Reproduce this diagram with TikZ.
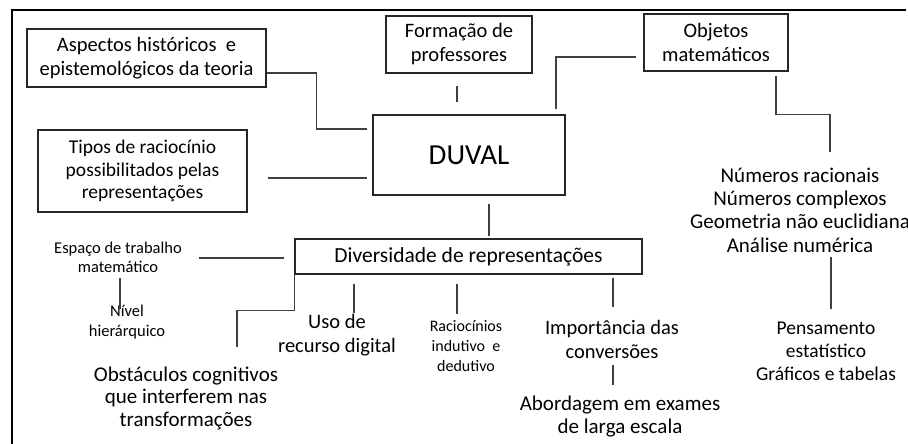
\documentclass[tikz,border=0pt]{standalone}
\usepackage{fontspec}
\setmainfont{Carlito}
\usepackage{tikz}
\usetikzlibrary{calc}
\tikzstyle{box} = [rectangle, draw=black!85, line width=1.1pt, align=center, inner sep=0pt, font=\fontsize{20.5}{24}\selectfont]
\tikzstyle{txt} = [align=center, inner sep=0pt, font=\fontsize{20.5}{23.5}\selectfont]
\tikzstyle{small} = [align=center, inner sep=0pt, font=\fontsize{16.5}{19.5}\selectfont]
\tikzstyle{conn} = [draw=black!75, line width=1.1pt]
\tikzstyle{frame} = [draw=black, line width=1.2pt]
\begin{document}
\begin{tikzpicture}[x=1pt, y=-1pt]
\useasboundingbox (0,0) rectangle (908,444);
\draw [frame] (906,10) -- (12,10) -- (12,444);

\node (duval) [box, minimum width=192pt, minimum height=80pt, font=\fontsize{29}{34}\selectfont] at (469,155) {DUVAL};
\node (aspectos) [box, minimum width=239pt, minimum height=58pt] at (146.5,58) {Aspectos históricos~ e\\epistemológicos da teoria};
\node (tipos) [box, minimum width=209pt, minimum height=82pt, font=\fontsize{19.5}{22.5}\selectfont] at (142.5,171) {Tipos de raciocínio\\possibilitados pelas\\representações};
\node (formacao) [box, minimum width=146pt, minimum height=57pt] at (459,44.5) {Formação de\\professores};
\node (objetos) [box, minimum width=144pt, minimum height=57pt] at (716,42.5) {Objetos\\matemáticos};
\node (divers) [box, minimum width=347pt, minimum height=35pt, font=\fontsize{21.5}{25}\selectfont] at (468.5,256.5) {Diversidade de representações};

\node (numeros) [txt, font=\fontsize{21}{23.3}\selectfont] at (800,210) {Números racionais\\Números complexos\\Geometria não euclidiana\\Análise numérica};
\node (pensam) [txt, font=\fontsize{19.5}{23}\selectfont] at (826,351) {Pensamento\\estatístico\\Gráficos e tabelas};
\node (espaco) [small] at (118,257.5) {Espaço de trabalho\\matemático};
\node (nivel) [small] at (127,322) {Nível\\hierárquico};
\node (obstac) [txt, font=\fontsize{21}{22.5}\selectfont] at (186,398) {Obstáculos cognitivos\\que interferem nas\\transformações};
\node (uso) [txt] at (337,335) {Uso de\\recurso digital};
\node (racioc) [small, font=\fontsize{16}{20}\selectfont] at (466,346) {Raciocínios\\indutivo~ e\\dedutivo};
\node (import) [txt] at (612,339.5) {Importância das\\conversões};
\node (abord) [txt, font=\fontsize{21}{23}\selectfont] at (620,416.5) {Abordagem em exames\\de larga escala};

% ligacoes do DUVAL
\draw [conn, shorten >=5pt] ([yshift=-15pt]aspectos.east) -- ++(50,0) |- ([yshift=26pt]duval.west);
\draw [conn, shorten <=20pt, shorten >=5pt] ([yshift=-7pt]tipos.east) -- ([yshift=-23pt]duval.west);
\draw [conn, shorten <=12pt, shorten >=12pt] ([xshift=-2pt]formacao.south) -- ([xshift=-12pt]duval.north);
\draw [conn, shorten >=7pt] ([xshift=87pt,yshift=5pt]duval.north) |- ([yshift=-14.5pt]objetos.west);
\draw [conn, shorten <=8pt, shorten >=2pt] ([xshift=20pt]duval.south) -- ([xshift=20pt]duval.south |- divers.north);

% objetos matematicos
\draw [conn] ([xshift=60pt,yshift=-4pt]objetos.south) -- ++(0,39) -| ([xshift=30pt,yshift=58pt]numeros.center);
\draw [conn] ([xshift=31pt,yshift=-47pt]numeros.center) -- ([xshift=5pt,yshift=42pt]pensam.center);

% diversidade de representacoes
\draw [conn, shorten <=10pt] ([yshift=-1.5pt]divers.west) -- ([xshift=81pt,yshift=-0.5pt]espaco.center);
\draw [conn] ([xshift=2pt,yshift=-20.5pt]espaco.center) -- ([xshift=-7pt,yshift=13pt]nivel.center);
\draw [conn] (divers.south west) -- ++(0,36) -| ([xshift=51pt,yshift=51pt]obstac.center);
\draw [conn, shorten <=9pt] ([xshift=17pt]uso.center |- divers.south) -- ([xshift=17pt,yshift=22pt]uso.center);
\draw [conn, shorten <=9pt] ([xshift=-9pt]racioc.center |- divers.south) -- ([xshift=-9pt,yshift=32pt]racioc.center);
\draw [conn, shorten <=3pt] ([xshift=1pt]import.center |- divers.south) -- ([xshift=1pt,yshift=32.5pt]import.center);
\draw [conn] ([xshift=1pt,yshift=-25.5pt]import.center) -- ([xshift=-7pt,yshift=31.5pt]abord.center);
\end{tikzpicture}
\end{document}
